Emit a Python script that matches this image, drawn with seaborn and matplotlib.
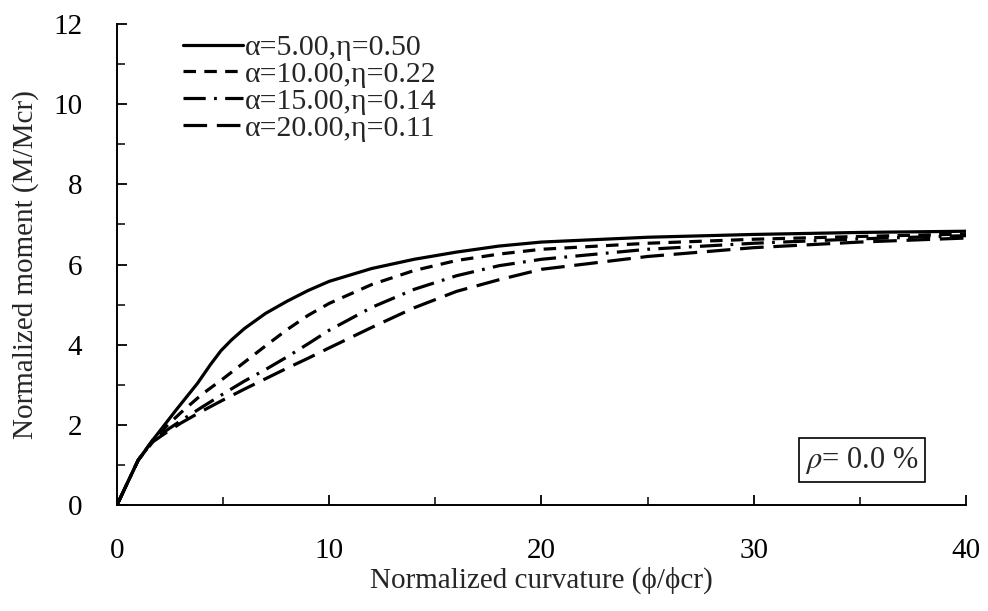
import numpy as np
import pandas as pd
import matplotlib
matplotlib.use("Agg")
import matplotlib.pyplot as plt
import seaborn as sns
from matplotlib.ticker import MultipleLocator

# ---- data ----
x_a5 = [0, 1.0, 1.7, 2.8, 3.8, 4.4, 4.9, 5.4, 6, 7, 8, 9, 10, 12, 14, 16, 18, 20, 25, 30, 35, 40]
y_a5 = [0, 1.12, 1.63, 2.38, 3.04, 3.5, 3.85, 4.12, 4.4, 4.78, 5.08, 5.35, 5.58, 5.9, 6.13, 6.31, 6.46, 6.56, 6.68, 6.75, 6.80, 6.83]

x_a10 = [0, 1.0, 1.7, 2.3, 3, 4, 5, 6, 7, 8, 9, 10, 12, 14, 16, 18, 20, 25, 30, 35, 40]
y_a10 = [0, 1.12, 1.63, 1.95, 2.3, 2.76, 3.15, 3.56, 3.97, 4.37, 4.73, 5.03, 5.5, 5.85, 6.1, 6.26, 6.38, 6.53, 6.63, 6.70, 6.76]

x_a15 = [0, 1.0, 1.7, 2.3, 3, 4, 5, 6, 7, 8, 9, 10, 12, 14, 16, 18, 20, 25, 30, 35, 40]
y_a15 = [0, 1.12, 1.6, 1.85, 2.1, 2.44, 2.77, 3.09, 3.38, 3.69, 4.02, 4.36, 4.93, 5.38, 5.72, 5.97, 6.13, 6.38, 6.53, 6.64, 6.72]

x_a20 = [0, 1.0, 1.7, 2.3, 3, 4, 5, 6, 7, 8, 9, 10, 12, 14, 16, 18, 20, 25, 30, 35, 40]
y_a20 = [0, 1.12, 1.58, 1.8, 2.04, 2.34, 2.62, 2.89, 3.15, 3.41, 3.66, 3.92, 4.43, 4.92, 5.33, 5.62, 5.88, 6.2, 6.42, 6.56, 6.66]

labels = ["α=5.00,η=0.50", "α=10.00,η=0.22", "α=15.00,η=0.14", "α=20.00,η=0.11"]
x_ticks = [0, 10, 20, 30, 40]
y_ticks = [0, 2, 4, 6, 8, 10, 12]
annot = r"$\rho$= 0.0 %"

sns.set_theme(style="ticks")
plt.rcParams["font.family"] = ["Liberation Serif", "DejaVu Serif"]
plt.rcParams["mathtext.fontset"] = "stix"
plt.rcParams["lines.scale_dashes"] = False

fig = plt.figure(figsize=(9.88, 6.11), dpi=100)
ax = fig.add_axes([0.1184, 0.1735, 0.8593, 0.7872])

styles = ["-", (0, (9, 6)), (0, (16, 6, 2, 6)), (0, (17, 7))]
series = [(x_a5, y_a5), (x_a10, y_a10), (x_a15, y_a15), (x_a20, y_a20)]
for (xs, ys), lab, ls in zip(series, labels, styles):
    df = pd.DataFrame({"x": xs, "y": ys})
    sns.lineplot(data=df, x="x", y="y", ax=ax, color="black", lw=2.3,
                 linestyle=ls, label=lab, sort=False, estimator=None)

ax.set_xlim(0, 40)
ax.set_ylim(0, 12)
ax.set_xticks(x_ticks)
ax.set_yticks(y_ticks)
ax.xaxis.set_minor_locator(MultipleLocator(5))
ax.yaxis.set_minor_locator(MultipleLocator(1))
ax.tick_params(axis="both", which="major", direction="in", length=7, width=1.3,
               labelsize=21, colors="black")
ax.tick_params(axis="both", which="minor", direction="in", length=6, width=1.3)
ax.tick_params(axis="x", which="major", pad=24)
ax.tick_params(axis="y", which="major", pad=25)
for s in ["top", "right"]:
    ax.spines[s].set_visible(False)
for s in ["left", "bottom"]:
    ax.spines[s].set_linewidth(1.4)
    ax.spines[s].set_color("black")

ax.set_xlabel("Normalized curvature (ϕ/ϕcr)", fontsize=21, labelpad=2)
ax.set_ylabel("Normalized moment (M/Mcr)", fontsize=21, labelpad=10)

leg = ax.legend(loc="upper left", bbox_to_anchor=(0.078, 0.979), frameon=False,
                fontsize=21.5, handlelength=2.0, handletextpad=0.08,
                labelspacing=0.0, borderpad=0, borderaxespad=0)

ax.text(0.8775, 0.093, annot, transform=ax.transAxes, fontsize=22,
        ha="center", va="center",
        bbox=dict(boxstyle="square,pad=0.22", fc="white", ec="black", lw=1.2))

fig.savefig("out.png", dpi=100)
